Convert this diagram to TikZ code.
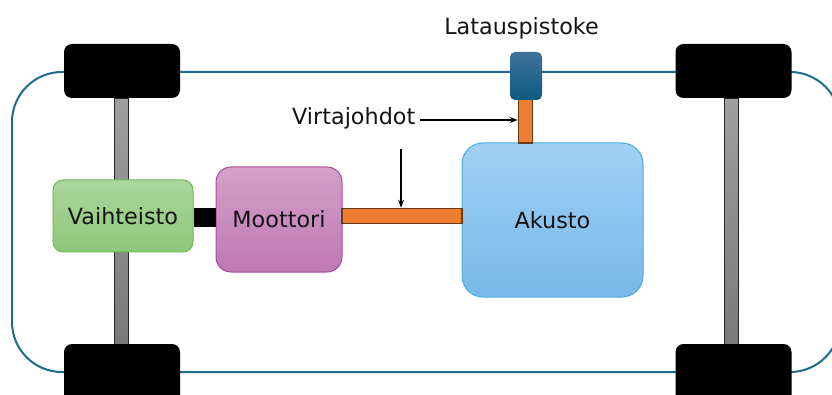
\documentclass[tikz,border=0pt]{standalone}
\usepackage{fontspec}
\setmainfont{DejaVu Sans}
\usetikzlibrary{arrows.meta}

\definecolor{chassis}{HTML}{1F6B8C}
\definecolor{gearTop}{HTML}{AAD69B}
\definecolor{gearBot}{HTML}{8DC77A}
\definecolor{gearEdge}{HTML}{6CBF4A}
\definecolor{motorTop}{HTML}{D3A0CA}
\definecolor{motorBot}{HTML}{BF79B3}
\definecolor{motorEdge}{HTML}{A94AA0}
\definecolor{battTop}{HTML}{A0D0F4}
\definecolor{battBot}{HTML}{78B8E9}
\definecolor{battEdge}{HTML}{4AAEE0}
\definecolor{cable}{HTML}{ED7D31}
\definecolor{cableEdge}{HTML}{6B3A16}
\definecolor{plugTop}{HTML}{40729A}
\definecolor{plugBot}{HTML}{0C5A80}
\definecolor{ink}{HTML}{141414}

\tikzset{
  box/.style={inner sep=0pt, line width=1pt, text=ink,
    font=\fontsize{22.3}{26}\selectfont},
  wheel/.style={fill=black, rounded corners=8pt, inner sep=0pt,
    minimum width=116pt},
  axle/.style={draw=black!85, line width=0.9pt, top color=gray!75,
    bottom color=gray!95!black!100, inner sep=0pt, minimum width=14pt},
  gearbox/.style={box, draw=gearEdge, top color=gearTop, bottom color=gearBot,
    rounded corners=10pt, minimum width=140pt, minimum height=72pt},
  motorbox/.style={box, draw=motorEdge, top color=motorTop, bottom color=motorBot,
    rounded corners=15pt, minimum width=126pt, minimum height=105pt},
  battbox/.style={box, draw=battEdge, top color=battTop, bottom color=battBot,
    rounded corners=21pt, minimum width=181pt, minimum height=154pt},
  wire/.style={draw=cableEdge, fill=cable, line width=1.5pt, inner sep=0pt},
  plug/.style={top color=plugTop, bottom color=plugBot, rounded corners=5pt,
    inner sep=0pt, minimum width=32pt, minimum height=48pt},
  label/.style={text=ink, inner sep=0pt, font=\fontsize{22.3}{26}\selectfont},
  pointer/.style={draw=black, line width=1.3pt,
    -{Stealth[length=8pt,width=6pt]}}
}

\begin{document}
\begin{tikzpicture}[x=1pt,y=-1pt]
\useasboundingbox (0,0) rectangle (832,395);
\clip (0,0) rectangle (832,395);

% chassis outline
\draw[chassis, line width=2pt, rounded corners=50pt] (12,72) rectangle (840,372);

% axles
\node[axle, minimum height=246pt] (axleL) at (121,221) {};
\node[axle, minimum height=247pt] (axleR) at (731,221.5) {};

% wheels
\node[wheel, minimum height=54pt] (wheelTL) at (122,71) {};
\node[wheel, minimum height=60pt] (wheelBL) at (122,374) {};
\node[wheel, minimum height=54pt] (wheelTR) at (733.5,71) {};
\node[wheel, minimum height=60pt] (wheelBR) at (733.5,374) {};

% drivetrain
\node[gearbox] (gear) at (123,216) {Vaihteisto};
\node[motorbox] (motor) at (279,219.5) {Moottori};
\node[battbox] (batt) at (552.5,220) {Akusto};
\fill[black] (gear.east |- 0,208) rectangle (motor.west |- 0,227);

% power cables
\node[wire, minimum width=120pt, minimum height=15pt] (hwire) at (402,216) {};
\node[wire, minimum width=14pt, minimum height=47pt] (vwire) at (525.5,119.5) {};

% charging socket
\node[plug] (plug) at (526,76) {};

% labels
\node[label, anchor=base] (plugLabel) at (521.5,35) {Latauspistoke};
\node[label, anchor=base west] (wireLabel) at (292,125) {Virtajohdot};

% label pointers
\coordinate (ptrA) at (420,120);
\coordinate (ptrB) at (401,149);
\draw[pointer] (ptrA) -- (vwire.west |- ptrA);
\draw[pointer] (ptrB) -- (ptrB |- hwire.north);
\end{tikzpicture}
\end{document}
